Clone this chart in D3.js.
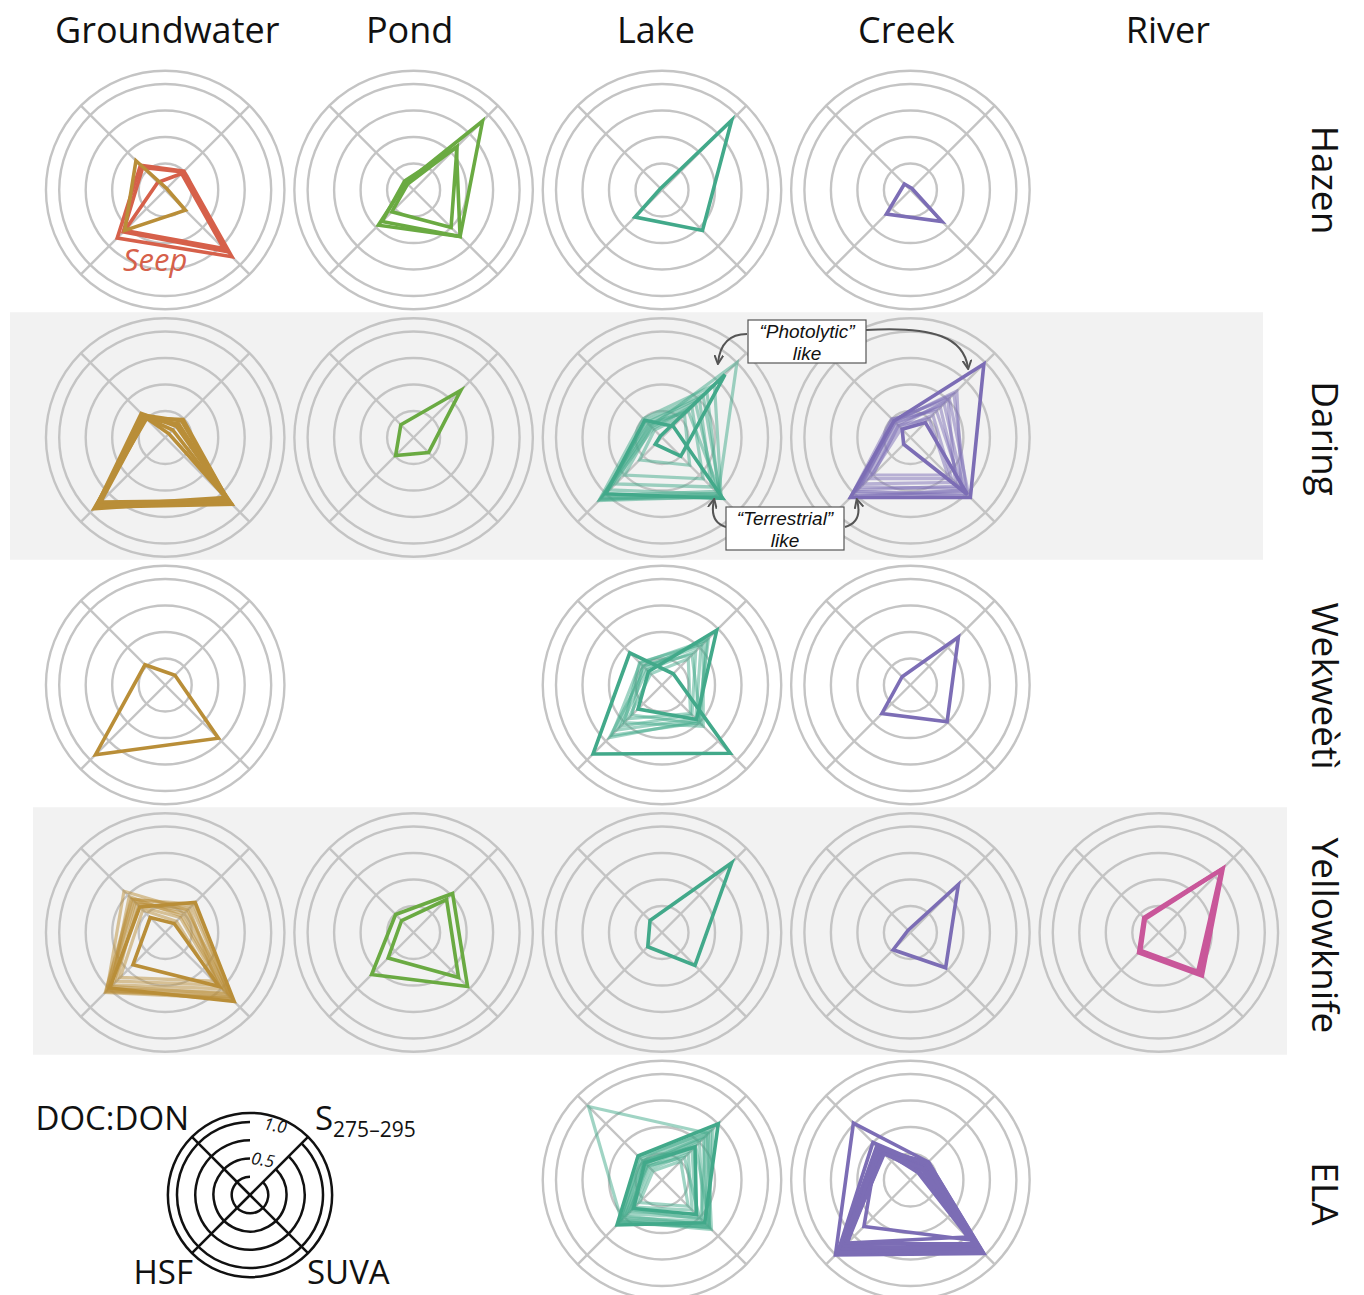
<!DOCTYPE html>
<html><head><meta charset="utf-8">
<script src="https://cdn.jsdelivr.net/npm/d3@7"></script>
<style>body{margin:0;background:#fff}svg{display:block}</style>
</head><body>
<script>
// Grid categories
const sites = ["Hazen", "Daring", "Wekweètì", "Yellowknife", "ELA"];
const waterTypes = ["Groundwater", "Pond", "Lake", "Creek", "River"];
// Axis order around each radar: top-left, top-right, bottom-right, bottom-left
const metrics = ["DOC:DON", "S275–295", "SUVA", "HSF"];
const ringTicks = [0.25, 0.5, 0.75, 1.0];
const outerRing = 1.125;
const legendTickLabels = [0.5, 1.0];

// Normalised values per sample: [DOC:DON, S275–295, SUVA, HSF]
const hazenGroundwater = [[0.39, 0.02, 0.27, 0.54]];
const hazenSeep = [[0.33, 0.25, 0.89, 0.64], [0.30, 0.24, 0.82, 0.56], [0.10, 0.22, 0.78, 0.54]];
const hazenPond = [[0.10, 0.92, 0.62, 0.47], [0.08, 0.58, 0.50, 0.29], [0.12, 0.57, 0.62, 0.42]];
const hazenLake = [[0.02, 0.93, 0.54, 0.36]];
const hazenCreek = [[0.08, 0.02, 0.42, 0.32]];

const daringGroundwater = [
  [0.29, 0.17, 0.89, 0.93], [0.30, 0.22, 0.85, 0.90], [0.25, 0.18, 0.83, 0.95],
  [0.28, 0.05, 0.87, 0.88], [0.32, 0.15, 0.86, 0.92], [0.26, 0.24, 0.84, 0.86],
  [0.27, 0.10, 0.80, 0.91]
];
const daringPond = [[0.17, 0.63, 0.20, 0.24]];
const daringLake = [[0.23, 0.15, 0.81, 0.75], [0.02, 0.84, 0.25, 0.09]];
const daringLakeSamples = [
  [0.15, 1.00, 0.75, 0.83], [0.20, 0.55, 0.78, 0.80], [0.12, 0.45, 0.72, 0.78],
  [0.18, 0.35, 0.80, 0.82], [0.10, 0.30, 0.37, 0.30], [0.22, 0.60, 0.76, 0.70],
  [0.14, 0.40, 0.55, 0.50], [0.25, 0.70, 0.79, 0.84], [0.17, 0.50, 0.66, 0.62]
];
const daringCreek = [[0.22, 0.98, 0.80, 0.80], [0.11, 0.20, 0.76, 0.09]];
const daringCreekSamples = [
  [0.22, 0.58, 0.75, 0.78], [0.18, 0.45, 0.72, 0.75], [0.25, 0.35, 0.70, 0.80],
  [0.15, 0.50, 0.60, 0.62], [0.20, 0.40, 0.65, 0.70], [0.12, 0.30, 0.55, 0.55],
  [0.24, 0.52, 0.78, 0.72], [0.16, 0.25, 0.50, 0.50], [0.21, 0.62, 0.68, 0.66]
];

const wekweetiGroundwater = [[0.27, 0.13, 0.71, 0.93]];
const wekweetiLake = [[0.43, 0.15, 0.91, 0.92], [0.18, 0.73, 0.46, 0.32]];
const wekweetiLakeSamples = [
  [0.29, 0.60, 0.50, 0.67], [0.25, 0.52, 0.45, 0.60], [0.20, 0.45, 0.40, 0.55],
  [0.30, 0.55, 0.55, 0.50], [0.15, 0.35, 0.38, 0.45], [0.22, 0.62, 0.48, 0.70],
  [0.26, 0.40, 0.52, 0.40]
];
const wekweetiCreek = [[0.11, 0.64, 0.49, 0.38]];

const yellowknifeGroundwater = [[0.34, 0.40, 0.92, 0.74], [0.20, 0.12, 0.72, 0.43]];
const yellowknifeGroundwaterSamples = [
  [0.55, 0.30, 0.85, 0.78], [0.40, 0.25, 0.80, 0.75], [0.45, 0.35, 0.88, 0.80],
  [0.35, 0.20, 0.75, 0.70], [0.42, 0.28, 0.90, 0.76], [0.38, 0.32, 0.70, 0.65],
  [0.48, 0.22, 0.82, 0.72], [0.30, 0.15, 0.65, 0.60], [0.44, 0.38, 0.86, 0.79]
];
const yellowknifePond = [[0.24, 0.52, 0.72, 0.56], [0.16, 0.44, 0.60, 0.34]];
const yellowknifeLake = [[0.16, 0.93, 0.44, 0.19]];
const yellowknifeCreek = [[0.03, 0.64, 0.47, 0.23]];
const yellowknifeRiver = [[0.19, 0.85, 0.56, 0.26], [0.18, 0.83, 0.52, 0.24], [0.20, 0.86, 0.58, 0.27], [0.19, 0.84, 0.54, 0.25]];

const elaLake = [[0.32, 0.75, 0.57, 0.60], [0.23, 0.44, 0.46, 0.38]];
const elaLakeSamples = [
  [0.98, 0.62, 0.58, 0.54], [0.25, 0.60, 0.66, 0.55], [0.20, 0.50, 0.55, 0.50],
  [0.28, 0.68, 0.62, 0.58], [0.18, 0.40, 0.45, 0.42], [0.22, 0.55, 0.60, 0.48],
  [0.15, 0.35, 0.40, 0.36], [0.26, 0.45, 0.64, 0.52], [0.19, 0.30, 0.50, 0.45],
  [0.24, 0.58, 0.52, 0.40], [0.12, 0.25, 0.35, 0.30], [0.30, 0.65, 0.63, 0.56]
];
const elaCreek = [
  [0.76, 0.24, 0.98, 1.00], [0.40, 0.22, 0.96, 0.98], [0.45, 0.20, 0.92, 0.95],
  [0.38, 0.18, 0.88, 0.90], [0.42, 0.15, 0.95, 0.92], [0.36, 0.12, 0.85, 0.85],
  [0.44, 0.10, 0.80, 0.62], [0.40, 0.24, 0.97, 0.96], [0.50, 0.20, 0.90, 0.97],
  [0.35, 0.16, 0.93, 0.88], [0.43, 0.22, 0.76, 0.84]
];

const typeColors = {
  Groundwater: "#b98e38", Pond: "#6aaa42", Lake: "#42a98a", Creek: "#7c6db5", River: "#c9579a"
};
const seepColor = "#d6604a";

// Panel table built from the arrays above
const panels = [
  { site: "Hazen", type: "Groundwater", layers: [
      { data: hazenSeep, color: seepColor }, { data: hazenGroundwater }] },
  { site: "Hazen", type: "Pond", layers: [{ data: hazenPond }] },
  { site: "Hazen", type: "Lake", layers: [{ data: hazenLake }] },
  { site: "Hazen", type: "Creek", layers: [{ data: hazenCreek }] },
  { site: "Daring", type: "Groundwater", layers: [{ data: daringGroundwater }] },
  { site: "Daring", type: "Pond", layers: [{ data: daringPond }] },
  { site: "Daring", type: "Lake", layers: [{ data: daringLakeSamples, faint: true }, { data: daringLake }] },
  { site: "Daring", type: "Creek", layers: [{ data: daringCreekSamples, faint: true }, { data: daringCreek }] },
  { site: "Wekweètì", type: "Groundwater", layers: [{ data: wekweetiGroundwater }] },
  { site: "Wekweètì", type: "Lake", layers: [{ data: wekweetiLakeSamples, faint: true }, { data: wekweetiLake }] },
  { site: "Wekweètì", type: "Creek", layers: [{ data: wekweetiCreek }] },
  { site: "Yellowknife", type: "Groundwater", layers: [{ data: yellowknifeGroundwaterSamples, faint: true }, { data: yellowknifeGroundwater }] },
  { site: "Yellowknife", type: "Pond", layers: [{ data: yellowknifePond }] },
  { site: "Yellowknife", type: "Lake", layers: [{ data: yellowknifeLake }] },
  { site: "Yellowknife", type: "Creek", layers: [{ data: yellowknifeCreek }] },
  { site: "Yellowknife", type: "River", layers: [{ data: yellowknifeRiver }] },
  { site: "ELA", type: "Lake", layers: [{ data: elaLakeSamples, faint: true }, { data: elaLake }] },
  { site: "ELA", type: "Creek", layers: [{ data: elaCreek }] }
];

const W = 1364, H = 1295;
const FONT = "'Open Sans', 'Noto Sans', sans-serif";
const svg = d3.select("body").append("svg").attr("width", W).attr("height", H)
  .style("font-family", FONT);

const col = d3.scaleBand().domain(waterTypes).range([41, 1283]);
const row = d3.scaleBand().domain(sites).range([66.25, 1303.75]);
const cx = t => col(t) + col.bandwidth() / 2;
const cy = s => row(s) + row.bandwidth() / 2;

// Small nudges so the labels sit optically centred over their panels
const headerShift = { Groundwater: 2, Pond: -4, Lake: -6, Creek: -4, River: 9 };
const rowLabelShift = { Hazen: -10, Daring: 1, "Wekweètì": 1, Yellowknife: 3, ELA: 14 };

const angles = [-Math.PI / 4, Math.PI / 4, 3 * Math.PI / 4, 5 * Math.PI / 4];
const r = d3.scaleLinear().domain([0, 1]).range([0, 106]);

// Shaded rows
[["Daring", 10, 1263], ["Yellowknife", 33, 1287]].forEach(([s, x0, x1]) => {
  svg.append("rect").attr("x", x0).attr("y", row(s) - 1.5).attr("width", x1 - x0)
    .attr("height", row.bandwidth()).attr("fill", "#f2f2f2");
});

// Column headers
svg.append("g").selectAll("text").data(waterTypes).join("text")
  .attr("x", d => cx(d) + headerShift[d]).attr("y", 43).attr("text-anchor", "middle")
  .attr("font-size", 36).attr("fill", "#111").text(d => d);

// Row labels, rotated
svg.append("g").selectAll("text").data(sites).join("text")
  .attr("transform", d => `translate(1312,${cy(d) + rowLabelShift[d]}) rotate(90)`)
  .attr("text-anchor", "middle").attr("font-size", 37).attr("fill", "#111").text(d => d);

function drawGrid(g, scale, stroke, width) {
  g.selectAll("circle.ring").data(ringTicks.concat([outerRing])).join("circle")
    .attr("class", "ring").attr("r", d => scale(d))
    .attr("fill", "none").attr("stroke", stroke).attr("stroke-width", width);
  g.selectAll("line.axis").data(angles).join("line").attr("class", "axis")
    .attr("x1", 0).attr("y1", 0)
    .attr("x2", a => scale(outerRing) * Math.sin(a))
    .attr("y2", a => -scale(outerRing) * Math.cos(a))
    .attr("stroke", stroke).attr("stroke-width", width);
}

const radarLine = d3.lineRadial()
  .angle((d, i) => angles[i])
  .radius(d => r(d))
  .curve(d3.curveLinearClosed);

panels.forEach(p => {
  const g = svg.append("g").attr("transform", `translate(${cx(p.type)},${cy(p.site)})`);
  drawGrid(g, r, "#c4c4c4", 2.4);
  p.layers.forEach(layer => {
    const color = layer.color || typeColors[p.type];
    g.append("g").selectAll("path").data(layer.data).join("path")
      .attr("d", radarLine)
      .attr("fill", "none")
      .attr("stroke", color)
      .attr("stroke-width", layer.faint ? 3.2 : 3.6)
      .attr("stroke-opacity", layer.faint ? 0.5 : 1)
      .attr("stroke-linejoin", "miter");
  });
});

// "Seep" label
svg.append("text").attr("x", 123).attr("y", 271).attr("font-size", 31)
  .attr("font-style", "italic").attr("fill", seepColor).text("Seep");

// Annotations
const defs = svg.append("defs");
defs.append("marker").attr("id", "arrow").attr("viewBox", "0 0 10 10")
  .attr("refX", 8).attr("refY", 5).attr("markerWidth", 5).attr("markerHeight", 5)
  .attr("orient", "auto-start-reverse")
  .append("path").attr("d", "M0,0.5 L9,5 L0,9.5").attr("fill", "none")
  .attr("stroke", "#555").attr("stroke-width", 2);

const arrows = [
  "M747,334 Q721,334 718,363",
  "M866,330 C935,326 964,338 968,368",
  "M726,527 Q709,522 714,500",
  "M845,527 Q863,522 857,500"
];
svg.append("g").selectAll("path").data(arrows).join("path")
  .attr("d", d => d).attr("fill", "none").attr("stroke", "#555")
  .attr("stroke-width", 2).attr("marker-end", "url(#arrow)");

function noteBox(x, y, w, h, lines) {
  const g = svg.append("g");
  g.append("rect").attr("x", x).attr("y", y).attr("width", w).attr("height", h)
    .attr("fill", "#fff").attr("stroke", "#555").attr("stroke-width", 1.2);
  g.selectAll("text").data(lines).join("text")
    .attr("x", x + w / 2).attr("y", (d, i) => y + 18 + i * 21.5)
    .attr("text-anchor", "middle")
    .style("font-family", "'Liberation Sans', Arial, sans-serif")
    .attr("font-size", 19).attr("font-style", "italic")
    .attr("fill", "#111").text(d => d);
}
noteBox(748, 320, 118, 43, ["“Photolytic”", "like"]);
noteBox(726, 507, 118, 43, ["“Terrestrial”", "like"]);

// Legend
const lg = svg.append("g").attr("transform", "translate(250,1195)");
const lr = d3.scaleLinear().domain([0, 1]).range([0, 73]);
lg.append("circle").attr("r", lr(outerRing)).attr("fill", "none")
  .attr("stroke", "#111").attr("stroke-width", 2.5);
lg.selectAll("path.arcTick").data(ringTicks).join("path").attr("class", "arcTick")
  .attr("d", d => { const p = d3.path(); p.arc(0, 0, lr(d), -Math.PI / 2, -Math.PI / 4, true); return p.toString(); })
  .attr("fill", "none").attr("stroke", "#111").attr("stroke-width", 2.5);
lg.selectAll("line").data(angles).join("line")
  .attr("x1", 0).attr("y1", 0)
  .attr("x2", a => lr(outerRing) * Math.sin(a))
  .attr("y2", a => -lr(outerRing) * Math.cos(a))
  .attr("stroke", "#111").attr("stroke-width", 2.5);
lg.selectAll("text.tick").data(legendTickLabels).join("text").attr("class", "tick")
  .attr("transform", d => {
    const a = 20 * Math.PI / 180, rr = lr(d) + 1;
    return `translate(${rr * Math.sin(a)},${-rr * Math.cos(a)}) rotate(10)`;
  })
  .attr("text-anchor", "middle").attr("dy", "0.35em")
  .attr("font-size", 17).attr("font-style", "italic").attr("fill", "#111")
  .text(d => d.toFixed(1));

const legendLabels = svg.append("g").attr("font-size", 33).attr("fill", "#111");
legendLabels.append("text").attr("x", 189).attr("y", 1130).attr("text-anchor", "end").text(metrics[0]);
const sLab = legendLabels.append("text").attr("x", 315).attr("y", 1130);
sLab.append("tspan").text(metrics[1].slice(0, 1));
sLab.append("tspan").attr("dy", 7).attr("font-size", 21).text(metrics[1].slice(1));
legendLabels.append("text").attr("x", 307).attr("y", 1284).text(metrics[2]);
legendLabels.append("text").attr("x", 193).attr("y", 1284).attr("text-anchor", "end").text(metrics[3]);
</script>
</body></html>
